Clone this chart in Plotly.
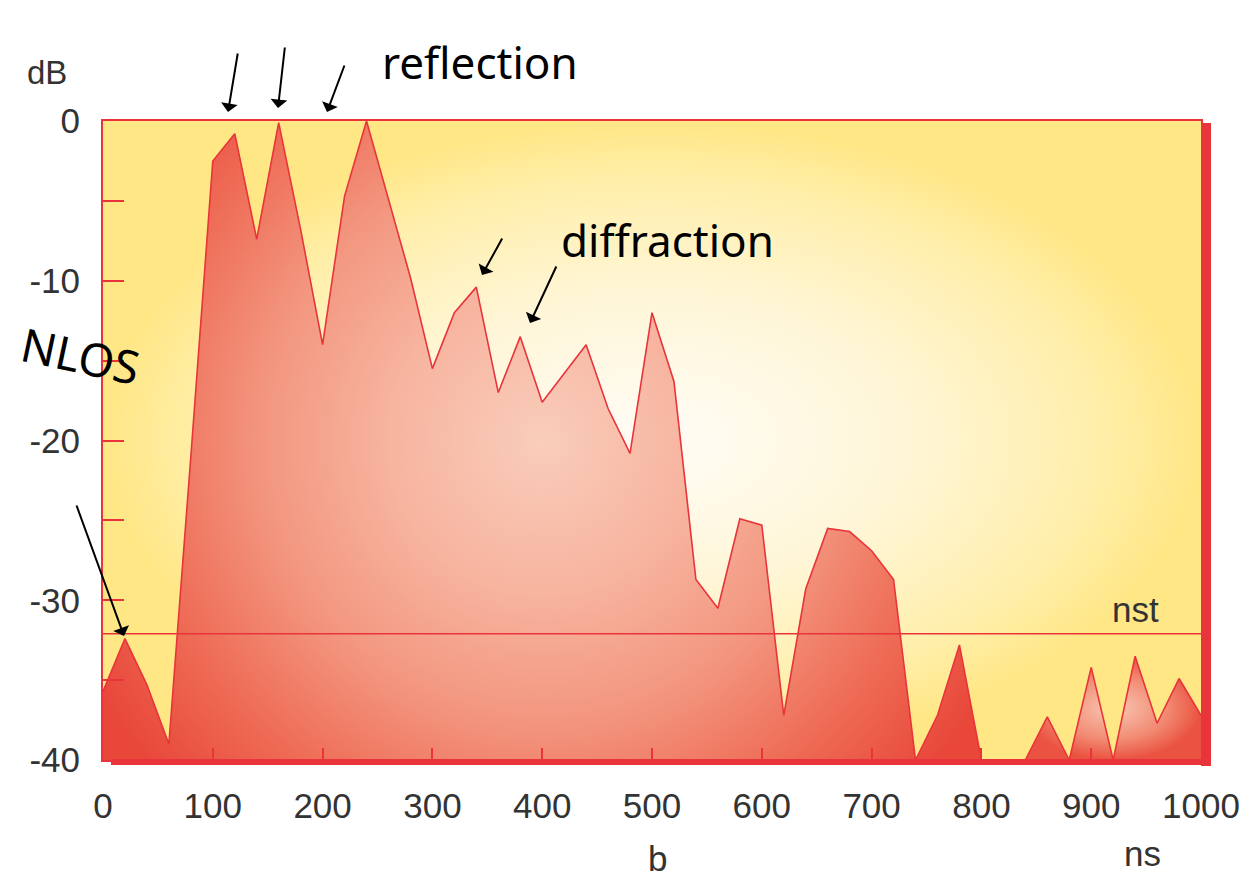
import plotly.graph_objects as go

# ---- data ----
time_ns = [0, 20, 40, 60, 80, 100, 120, 140, 160, 180, 200, 220, 240, 260, 280,
           300, 320, 340, 360, 380, 400, 420, 440, 460, 480, 500, 520, 540, 560,
           580, 600, 620, 640, 660, 680, 700, 720, 740, 760, 780, 800, 820, 840,
           860, 880, 900, 920, 940, 960, 980, 1000]
level_db = [-35.7, -32.4, -35.3, -39.0, -21.0, -2.5, -0.8, -7.4, -0.1, -6.8,
            -14.0, -4.7, 0.0, -4.9, -9.8, -15.5, -12.0, -10.4, -17.0, -13.5,
            -17.6, -15.8, -14.0, -18.0, -20.8, -12.0, -16.3, -28.7, -30.5,
            -24.9, -25.3, -37.2, -29.3, -25.5, -25.7, -26.9, -28.7, -40.0,
            -37.2, -32.8, -40.0, -40.0, -40.0, -37.3, -40.0, -34.2, -40.0,
            -33.5, -37.7, -34.9, -37.2]
noise_threshold_db = -32.1

x_ticks = [0, 100, 200, 300, 400, 500, 600, 700, 800, 900, 1000]
y_ticks = [0, -5, -10, -15, -20, -25, -30, -35, -40]
y_ticklabels = ["0", "", "-10", "", "-20", "", "-30", "", "-40"]

X_RANGE = [0, 1000]
Y_RANGE = [-40, 0]

# ---- style ----
RED = "#E8343A"
TEXT = "#333333"
FONT = "Liberation Sans, Arial, sans-serif"
HAND = "Noto Sans, DejaVu Sans, sans-serif"
FS = 35
# main highlight of the area fill: centre and radius (data units)
HL_CENTER = (400, -20)
HL_RADIUS = (464, 31.9)
AREA_SCALE = [[0, "#F9CDBB"], [0.3, "#F7B49F"], [0.55, "#F3967F"],
              [0.8, "#EE6953"], [1, "#E8473A"]]
SMALL_SCALE = [[0, "#F8C6B3"], [0.6, "#F28C74"], [1, "#EA5341"]]

W, H = 1252, 876
PAGE_OFF = 8  # page body margin of the html page
# plot area in page pixels
P_LEFT, P_RIGHT, P_TOP, P_BOTTOM = 103, 1201, 121, 760
ML = P_LEFT - PAGE_OFF
MT = P_TOP - PAGE_OFF
MR = W - (P_RIGHT - PAGE_OFF)
MB = H - (P_BOTTOM - PAGE_OFF)
PW, PH = P_RIGHT - P_LEFT, P_BOTTOM - P_TOP


def px(xpage):
    return (xpage - P_LEFT) / PW


def py(ypage):
    return (P_BOTTOM - ypage) / PH


fig = go.Figure()

# background plot area with radial gradient
fig.add_trace(go.Scatter(
    x=[X_RANGE[0], X_RANGE[1], X_RANGE[1], X_RANGE[0], X_RANGE[0]],
    y=[Y_RANGE[0], Y_RANGE[0], Y_RANGE[1], Y_RANGE[1], Y_RANGE[0]],
    mode="lines", line=dict(width=0), fill="toself",
    fillgradient=dict(type="radial",
                      colorscale=[[0, "#FFFCF6"], [0.45, "#FFF6D8"],
                                  [0.8, "#FFEFAC"], [1, "#FFE786"]]),
    hoverinfo="skip", showlegend=False))

# filled area: separate pieces where the profile rests on the floor
floor = Y_RANGE[0]
pieces = []
start = 0
for i in range(1, len(level_db)):
    if level_db[i] <= floor and level_db[i - 1] <= floor:
        if i - 1 > start:
            pieces.append((start, i - 1))
        start = i
pieces.append((start, len(level_db) - 1))


def piece_outline(seg_x, seg_y, center=None, radius=None):
    """Polygon of one piece closed along the floor.  When a highlight centre
    is given, zero-area spurs (outside or on the axes frame) stretch the
    polygon's bounding box so that the radial gradient is centred there."""
    x0, xn = seg_x[0], seg_x[-1]
    if center is None:
        return seg_x + [xn, x0], seg_y + [floor, floor]
    xl, xr = center[0] - radius[0], center[0] + radius[0]
    yb, yt = center[1] - radius[1], center[1] + radius[1]
    xs = [x0, x0, x0, xl, x0, x0, x0] + seg_x + [xn, xr, xn, x0]
    ys = [floor, yt, floor, floor, floor, yb, floor] + seg_y + [floor, floor, floor, floor]
    return xs, ys


for k, (a, b) in enumerate(pieces):
    seg_x = time_ns[a:b + 1]
    seg_y = level_db[a:b + 1]
    if max(seg_y) <= floor:
        continue
    if k == 0:
        xs, ys = piece_outline(seg_x, seg_y, HL_CENTER, HL_RADIUS)
        scale = AREA_SCALE
    else:
        xs, ys = piece_outline(seg_x, seg_y)
        scale = SMALL_SCALE
    fig.add_trace(go.Scatter(
        x=xs, y=ys, mode="lines", line=dict(width=0, simplify=False),
        fill="toself", fillgradient=dict(type="radial", colorscale=scale),
        hoverinfo="skip", showlegend=False))

# outline of the profile
fig.add_trace(go.Scatter(x=time_ns, y=level_db, mode="lines",
                         line=dict(color=RED, width=1.6), showlegend=False))

# noise threshold
fig.add_trace(go.Scatter(x=X_RANGE, y=[noise_threshold_db, noise_threshold_db], mode="lines",
                         line=dict(color=RED, width=1.6), showlegend=False))

fig.update_xaxes(range=X_RANGE, tickvals=x_ticks, ticks="inside", ticklen=12,
                 tickwidth=2, tickcolor=RED, showgrid=False, zeroline=False,
                 showline=True, linecolor=RED, linewidth=2, mirror=True,
                 tickfont=dict(family=FONT, size=FS, color=TEXT),
                 ticklabelstandoff=14)
fig.update_yaxes(range=Y_RANGE, tickvals=y_ticks, ticktext=y_ticklabels,
                 ticks="inside", ticklen=21, tickwidth=2, tickcolor=RED,
                 showgrid=False, zeroline=False, showline=True, linecolor=RED,
                 linewidth=2, mirror=True,
                 tickfont=dict(family=FONT, size=FS, color=TEXT),
                 ticklabelstandoff=14)

shapes = [
    # thick right and bottom frame
    dict(type="line", xref="paper", yref="paper", x0=px(1206), x1=px(1206),
         y0=py(766), y1=py(123), line=dict(color=RED, width=10)),
    dict(type="line", xref="paper", yref="paper", x0=px(111), x1=px(1210),
         y0=py(762), y1=py(762), line=dict(color=RED, width=6)),
]


def label(text, x, y, size=FS, family=FONT, color=TEXT, angle=0):
    return dict(text=text, x=px(x), y=py(y), xref="paper", yref="paper",
                xanchor="center", yanchor="middle", showarrow=False,
                textangle=angle, font=dict(family=family, size=size, color=color))


annotations = [
    label("dB", 47, 72, size=FS - 2),
    label("b", 657, 858),
    label("ns", 1142, 853),
    label("nst", 1135, 609),
    # handwritten notes
    label("reflection", 480, 62, size=44, family=HAND, color="black"),
    label("diffraction", 667, 240, size=44, family=HAND, color="black"),
    label("NLOS", 80, 355, size=46, family=HAND, color="black", angle=12),
]

arrows = [
    ((228, 112), (10, -60)),
    ((278, 108), (7, -62)),
    ((327, 112), (18, -48)),
    ((482, 275), (21, -38)),
    ((530, 323), (27, -58)),
    ((124, 636), (-48, -132)),
]
for (hx, hy), (ax, ay) in arrows:
    annotations.append(dict(x=px(hx), y=py(hy), xref="paper", yref="paper",
                            ax=ax, ay=ay, text="", showarrow=True,
                            arrowhead=1, arrowsize=1.4, arrowwidth=2,
                            arrowcolor="black"))

fig.update_layout(width=W, height=H,
                  margin=dict(l=ML, r=MR, t=MT, b=MB),
                  paper_bgcolor="white", plot_bgcolor="#FFF1B8",
                  shapes=shapes, annotations=annotations,
                  showlegend=False)

fig.write_html("out.html")
